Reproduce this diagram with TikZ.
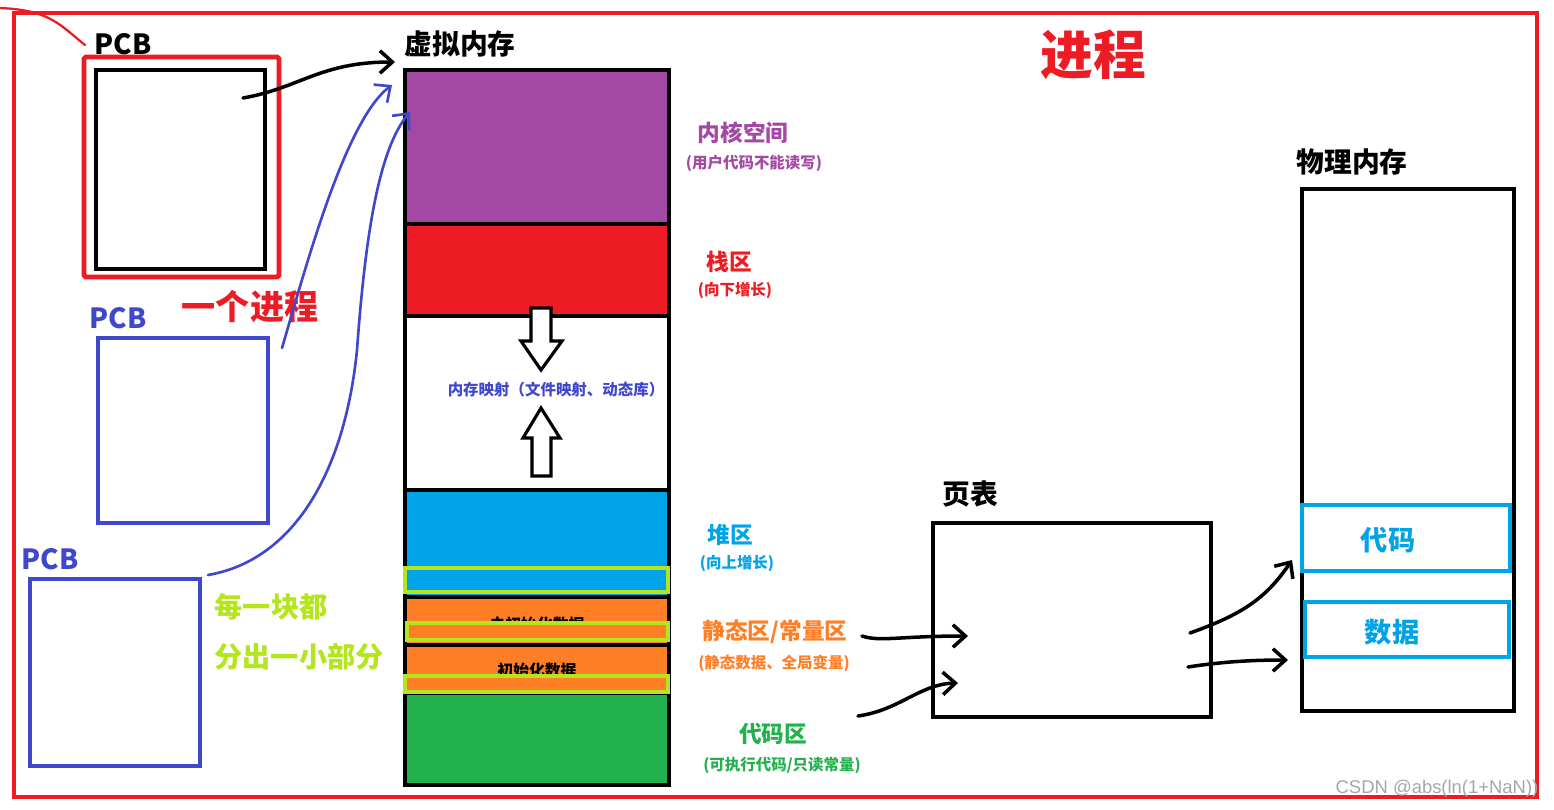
\documentclass[tikz,border=0pt]{standalone}
\usepackage{fontspec}
\setmainfont{Noto Sans CJK SC}
\newfontfamily\wmfont{Liberation Sans}
\usepackage{xcolor}
\usetikzlibrary{arrows.meta,positioning}

\definecolor{vmpurple}{HTML}{A349A4}
\definecolor{vmred}{HTML}{ED1C24}
\definecolor{vmblue}{HTML}{00A2E8}
\definecolor{vmorange}{HTML}{FF7F27}
\definecolor{vmgreen}{HTML}{22B14C}
\definecolor{lime}{HTML}{B5E61D}
\definecolor{indigo}{HTML}{3F48CC}

\begin{document}
\begin{tikzpicture}[x=0.02cm, y=-0.02cm,
    seg/.style={rectangle, draw=black, line width=2.2pt, inner sep=0pt, outer sep=0pt, minimum width=5.28cm},
    box/.style={rectangle, draw, line width=2.3pt, anchor=north west, inner sep=0pt, outer sep=0pt},
    hilite/.style={draw=lime, line width=2.3pt},
    head/.style={font=\bfseries\fontsize{15.8}{18}\selectfont},
    zone/.style={font=\bfseries\fontsize{12.9}{15}\selectfont},
    note/.style={font=\bfseries\fontsize{8.8}{10}\selectfont},
    hand/.style={line width=2pt, line cap=round, line join=round, -{Straight Barb[length=2.5mm, width=4.5mm]}}
]
\useasboundingbox (0,0) rectangle (1554,809);

% process frame
\node[box, draw=vmred, minimum width=30.46cm, minimum height=15.68cm] (proc) at (14,13) {};
\node[text=vmred, font=\bfseries\fontsize{30}{34}\selectfont] (proctitle) at (1093,55) {进程};
\draw[vmred, line width=1.3pt, line cap=round] (0,8) .. controls (50,10) and (60,25) .. (85,45);

% PCBs
\node[box, draw=vmred, line width=2.8pt, rounded corners=1pt, minimum width=3.9cm, minimum height=4.4cm] (pcbframe) at (84,57) {};
\node[box, minimum width=3.38cm, minimum height=3.98cm] (pcb1) at (96,70) {};
\node[head] (pcb1lbl) at (123,44) {PCB};
\node[text=vmred, font=\bfseries\fontsize{19.4}{22}\selectfont] (oneproc) at (250,307) {一个进程};

\node[box, draw=indigo, minimum width=3.4cm, minimum height=3.7cm] (pcb2) at (98,338) {};
\node[head, text=indigo] (pcb2lbl) at (118,318) {PCB};
\node[box, draw=indigo, minimum width=3.4cm, minimum height=3.74cm] (pcb3) at (30,579) {};
\node[head, text=indigo] (pcb3lbl) at (50,559) {PCB};

\node[text=lime, font=\bfseries\fontsize{16}{18}\selectfont] (share1) at (271,607) {每一块都};
\node[text=lime, font=\bfseries\fontsize{16}{18}\selectfont] (share2) at (299,657) {分出一小部分};

% virtual memory
\node[head] (vmlbl) at (460,44) {虚拟内存};
\node[seg, anchor=north west, fill=vmpurple, minimum height=3.08cm] (kern) at (405,70) {};
\node[seg, fill=vmred, minimum height=1.84cm, below=0pt of kern] (stack) {};
\node[seg, fill=white, minimum height=3.48cm, below=0pt of stack] (mmap) {};
\node[seg, fill=vmblue, minimum height=2.14cm, below=0pt of mmap] (heap) {};
\node[seg, fill=vmorange, minimum height=0.96cm, below=0pt of heap] (bss) {};
\node[seg, fill=vmorange, minimum height=0.96cm, below=0pt of bss] (data) {};
\node[seg, fill=vmgreen, minimum height=1.84cm, below=0pt of data] (code) {};

\draw[line width=1.8pt, fill=white] (531,308) -- (551,308) -- (551,341) -- (562,341) -- (541,370) -- (521,341) -- (531,341) -- cycle;
\draw[line width=1.8pt, fill=white] (541,408) -- (560,438) -- (551,438) -- (551,476) -- (532,476) -- (532,438) -- (523,438) -- cycle;
\node[note, text=indigo] (mmaplbl) at (556,390) {内存映射（文件映射、动态库）};

\node[font=\bfseries\fontsize{9}{10}\selectfont] (bsslbl) at (537,624) {未初始化数据};
\node[font=\bfseries\fontsize{9}{10}\selectfont] (datalbl) at (537,670) {初始化数据};
\draw[hilite, fill=vmblue] (405,568) rectangle (668,592);
\draw[hilite, fill=vmorange] (407,623) rectangle (668,640);
\draw[hilite, fill=vmorange] (405,676) rectangle (668,692);

% region labels
\node[zone, text=vmpurple] (kernlbl) at (743,133) {内核空间};
\node[note, text=vmpurple] (kernnote) at (754,163) {(用户代码不能读写)};
\node[zone, text=vmred] (stacklbl) at (729,262) {栈区};
\node[note, text=vmred] (stacknote) at (735,290) {(向下增长)};
\node[zone, text=vmblue] (heaplbl) at (730,535) {堆区};
\node[note, text=vmblue] (heapnote) at (737,563) {(向上增长)};
\node[zone, text=vmorange] (statlbl) at (775,632) {静态区/常量区};
\node[note, text=vmorange] (statnote) at (774,663) {(静态数据、全局变量)};
\node[zone, text=vmgreen] (codelbl) at (773,734) {代码区};
\node[note, text=vmgreen] (codenote) at (782,765) {(可执行代码/只读常量)};

% page table
\node[head] (ptlbl) at (970,494) {页表};
\node[box, minimum width=5.56cm, minimum height=3.88cm] (pt) at (933,523) {};

% physical memory
\node[head] (pmlbl) at (1352,162) {物理内存};
\node[box, minimum width=4.24cm, minimum height=10.44cm] (pm) at (1302,189) {};
\node[box, draw=vmblue, minimum width=4.16cm, minimum height=1.32cm] (pmcode) at (1302,505) {};
\node[text=vmblue, font=\bfseries\fontsize{15.5}{18}\selectfont] (pmcodelbl) at (1388,540) {代码};
\node[box, draw=vmblue, minimum width=4.08cm, minimum height=1.1cm] (pmdata) at (1305,602) {};
\node[text=vmblue, font=\bfseries\fontsize{15.5}{18}\selectfont] (pmdatalbl) at (1392,632) {数据};

% connectors
\coordinate (pcbptr) at (243,98);
\coordinate (vmtop) at (395,62);
\coordinate (pcb2ptr) at (282,348);
\coordinate (vmtop2) at (392,85);
\coordinate (pcb3ptr) at (208,575);
\coordinate (vmbend) at (357,350);
\coordinate (vmtop3) at (410,112);
\coordinate (statptr) at (862,636);
\coordinate (ptin1) at (968,636);
\coordinate (codeptr) at (858,716);
\coordinate (ptin2) at (958,683);
\coordinate (ptout1) at (1190,633);
\coordinate (pmin1) at (1292,560);
\coordinate (ptout2) at (1188,667);
\coordinate (pmin2) at (1288,660);

\draw[hand] (pcbptr) .. controls (300,88) and (320,62) .. (vmtop);
\draw[hand, indigo, line width=1.5pt] (pcb2ptr) .. controls (305,270) and (345,120) .. (vmtop2);
\draw[hand, indigo, line width=1.5pt] (pcb3ptr) .. controls (295,560) and (345,470) .. (vmbend) .. controls (365,240) and (378,150) .. (vmtop3);
\draw[hand] (statptr) .. controls (880,642) and (900,636) .. (ptin1);
\draw[hand] (codeptr) .. controls (900,710) and (920,684) .. (ptin2);
\draw[hand] (ptout1) .. controls (1240,615) and (1265,600) .. (pmin1);
\draw[hand] (ptout2) .. controls (1220,662) and (1250,660) .. (pmin2);

\node[text=gray!70, font=\wmfont\fontsize{10.5}{12}\selectfont] (wm) at (1437,789) {CSDN @abs(ln(1+NaN))};
\end{tikzpicture}
\end{document}
